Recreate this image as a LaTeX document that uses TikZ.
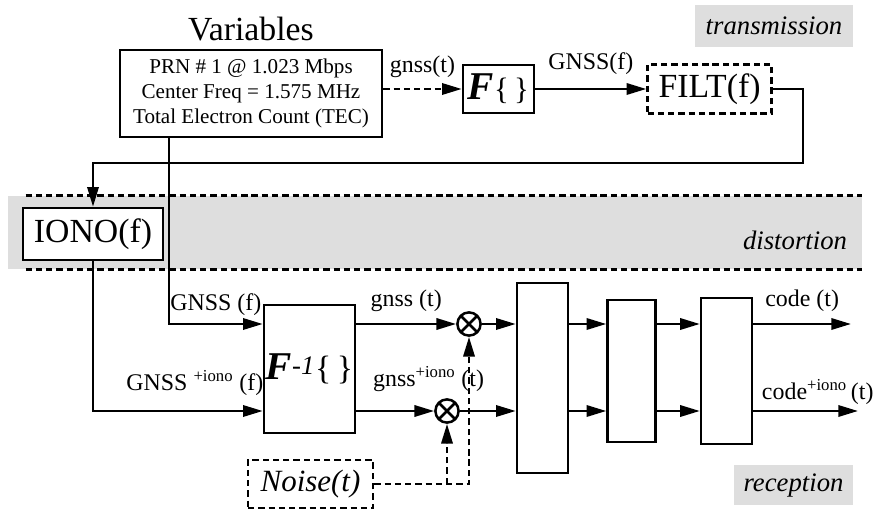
\documentclass[tikz,border=0pt]{standalone}
\usepackage{fontspec}
\setmainfont{Liberation Serif}
\usetikzlibrary{positioning,calc,arrows.meta}

\newcommand{\iono}{\textsuperscript{+iono}}
\newcommand{\Fop}{{\fontsize{28}{30}\selectfont\bfseries\itshape F}}

\tikzset{
  >={Triangle[length=14pt,width=8pt]},
  ln/.style={line width=1.8pt},
  dsh/.style={ln,dash pattern=on 4.5pt off 2.8pt},
  blk/.style args={#1,#2}{
  draw=black,
  line width=1.8pt,
  fill=white,
  inner sep=0pt,
  minimum width=#1 cm,
  minimum height=#2 cm,
  },
  dblk/.style args={#1,#2}{blk={#1,#2},dash pattern=on 4.5pt off 2.8pt},
  mult/.style={circle,draw=black,line width=1.8pt,fill=white,
   minimum size=0.58cm,inner sep=0pt,
   path picture={
    \draw[line width=1.8pt] (path picture bounding box.north west) -- (path picture bounding box.south east)
      (path picture bounding box.north east) -- (path picture bounding box.south west);}},
  tag/.style={fill=black!13,inner sep=0pt,font=\fontsize{19}{22}\selectfont\itshape},
  lbl/.style={font=\fontsize{17}{20}\selectfont,inner sep=0pt},
  big/.style={font=\fontsize{24}{27}\selectfont},
}

\begin{document}
\begin{tikzpicture}[x=0.025cm,y=-0.025cm]
  \useasboundingbox (0,0) rectangle (880,511);

  % grey band of the channel
  \node[fill=black!13,minimum width=21.35cm,minimum height=1.825cm,inner sep=0pt] (band) at (435,232.5) {};
  \draw[dsh] ([xshift=0.45cm]band.north west) -- (band.north east);
  \draw[dsh] ([xshift=0.45cm]band.south west) -- (band.south east);
  \node[tag,fill=none] (dist) at (795,240) {distortion};

  \node[tag,minimum width=3.95cm,minimum height=1.05cm] (tx) at (774,26) {transmission};
  \node[tag,minimum width=2.975cm,minimum height=1cm] (rx) at (793.5,485) {reception};

  \node[blk={6.55,2.175},align=center,font=\fontsize{15}{17.8}\selectfont,
    label={[big,inner sep=5pt]above:Variables}] (vars) at (251,93.5)
    {PRN \# 1 @ 1.023 Mbps\\Center Freq = 1.575 MHz\\Total Electron Count (TEC)};
  \node[blk={1.775,1.2}] (F) at (498.5,89) {\Fop{\fontsize{22}{24}\selectfont\{\,\}}};
  \node[dblk={3.1,1.225},big,right=2.775cm of F] (filt) {FILT(f)};

  \node[blk={3.5,1.3},big] (iono) at (93,234) {IONO(f)};
  \node[blk={2.275,3.2}] (finv) at (309.5,369)
    {\Fop\textsuperscript{\itshape\fontsize{19}{20}\selectfont -1}{\fontsize{24}{26}\selectfont\{\,\}}};
  \node[dblk={3.125,1.2},font=\fontsize{22}{26}\selectfont\itshape] (noise) at (310.5,484) {Noise(t)};

  \node[mult] (mulA) at (469,324) {};
  \node[mult] (mulB) at (447,411) {};

  \node[blk={1.275,4.75}] (box1) at (542.5,378) {};
  \node[blk={1.2,3.55},right=0.925cm of box1,yshift=0.175cm] (box2) {};
  \node[blk={1.275,3.65},right=1.075cm of box2] (box3) {};

  \coordinate (rowA) at (0,324);
  \coordinate (rowB) at (0,411);
  \coordinate (turn) at (803,163);
  \coordinate (tap) at ($(vars.south west)!0.19!(vars.south east)$);
  \coordinate (outA) at (851,324);
  \coordinate (outB) at (858,411);

  % transmitter side
  \draw[dsh,->] (vars.east |- F.west) -- (F.west) node[lbl,midway,above=7pt] {gnss(t)};
  \draw[ln,->] (F) -- (filt) node[lbl,midway,above=9pt] {GNSS(f)};
  \draw[ln,->] (filt.east) -| (turn) -| (iono.north);

  % into the inverse transform
  \draw[ln,->] (tap) |- (finv.west |- rowA) node[lbl,pos=0.75,above=5pt] {GNSS (f)};
  \draw[ln,->] (iono.south) |- (finv.west |- rowB) node[lbl,pos=0.8,above=10pt] {GNSS \iono{} (f)};

  \draw[ln,->] (finv.east |- rowA) -- (mulA.west) node[lbl,midway,above=8pt] {gnss (t)};
  \draw[ln,->] (finv.east |- rowB) -- (mulB.west) node[lbl,pos=0.2,above right=13pt and 0pt] {gnss\iono{} (t)};

  % noise feeds both mixers
  \draw[dsh,->] (noise.east) -| (mulA.south);
  \draw[dsh,->] (noise.east -| mulB.south) -- (mulB.south);

  \draw[ln,->] (mulA.east) -- (box1.west |- rowA);
  \draw[ln,->] (mulB.east) -- (box1.west |- rowB);
  \foreach \a/\b in {box1/box2,box2/box3}{
    \draw[ln,->] (\a.east |- rowA) -- (\b.west |- rowA);
    \draw[ln,->] (\a.east |- rowB) -- (\b.west |- rowB);
  }

  \draw[ln,->] (box3.east |- rowA) -- (outA) node[lbl,midway,above=8pt] {code (t)};
  \draw[ln,->] (box3.east |- rowB) -- (outB) node[lbl,pos=0.07,above right=4pt and 0pt] {code\iono{}\,(t)};

\end{tikzpicture}
\end{document}
